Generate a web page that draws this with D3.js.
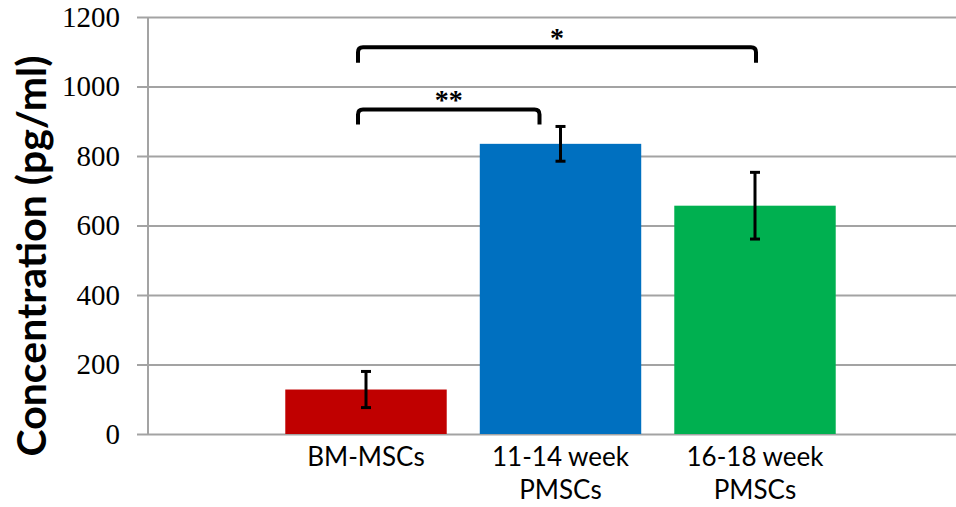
<!DOCTYPE html>
<html>
<head>
<meta charset="utf-8">
<script src="https://cdn.jsdelivr.net/npm/d3@7"></script>
<style>
  html, body { margin: 0; padding: 0; background: #fff; }
  svg { display: block; }
</style>
</head>
<body>
<svg id="chart" width="956" height="507"></svg>
<script>
// Cell groups, mean concentrations and error magnitudes (pg/ml)
const categories = ["BM-MSCs", "11-14 week PMSCs", "16-18 week PMSCs"];
const labelLines = [["BM-MSCs"], ["11-14 week", "PMSCs"], ["16-18 week", "PMSCs"]];
const values = [128, 835, 657];
const errors = [52, 50, 96];
const barColors = ["#C00000", "#0070C0", "#00B050"];
const yTicks = [0, 200, 400, 600, 800, 1000, 1200];

// Significance brackets: from/to group, bracket top and leg bottom (data units), label
const brackets = [
  { from: "BM-MSCs", to: "16-18 week PMSCs", top: 1113, bottom: 1068, label: "*", dxFrom: -8, dxTo: 1 },
  { from: "BM-MSCs", to: "11-14 week PMSCs", top: 934, bottom: 891, label: "**", dxFrom: -8, dxTo: -21 }
];

const svg = d3.select("#chart");
const plot = { left: 148, right: 956, top: 17, bottom: 434 };

const x = d3.scaleBand()
  .domain(categories)
  .range([268.75, 852.25])
  .paddingInner(0.17)
  .paddingOuter(0.085);

const y = d3.scaleLinear().domain([0, 1200]).range([plot.bottom, plot.top]);

// Horizontal gridlines with tick stubs
const yAxis = d3.axisLeft(y)
  .tickValues(yTicks)
  .tickSize(-(plot.right - plot.left))
  .tickPadding(28)
  .tickFormat(d3.format("d"));

const gy = svg.append("g")
  .attr("transform", `translate(${plot.left},0)`)
  .call(yAxis);
gy.select(".domain").remove();
gy.selectAll(".tick line")
  .attr("x1", -11)
  .attr("stroke", "#a3a3a3")
  .attr("stroke-width", 2);
gy.selectAll(".tick text")
  .attr("font-family", "'Liberation Serif', 'Times New Roman', serif")
  .attr("font-size", 29)
  .attr("fill", "#000");

// Vertical axis line
svg.append("line")
  .attr("x1", plot.left).attr("x2", plot.left)
  .attr("y1", y(1200)).attr("y2", y(0))
  .attr("stroke", "#a3a3a3").attr("stroke-width", 2);

// Bars
svg.append("g").selectAll("rect")
  .data(categories)
  .join("rect")
  .attr("x", d => x(d))
  .attr("width", x.bandwidth())
  .attr("y", (d, i) => y(values[i]))
  .attr("height", (d, i) => y(0) - y(values[i]))
  .attr("fill", (d, i) => barColors[i]);

// Error bars
const eb = svg.append("g").attr("stroke", "#000").attr("stroke-width", 3);
categories.forEach((c, i) => {
  const cx = x(c) + x.bandwidth() / 2;
  const hi = y(values[i] + errors[i]);
  const lo = y(values[i] - errors[i]);
  eb.append("line").attr("x1", cx).attr("x2", cx).attr("y1", hi).attr("y2", lo);
  eb.append("line").attr("x1", cx - 5).attr("x2", cx + 5).attr("y1", hi).attr("y2", hi);
  eb.append("line").attr("x1", cx - 5).attr("x2", cx + 5).attr("y1", lo).attr("y2", lo);
});

// Significance brackets
const r = 5;
brackets.forEach(b => {
  const x0 = x(b.from) + x.bandwidth() / 2 + b.dxFrom;
  const x1 = x(b.to) + x.bandwidth() / 2 + b.dxTo;
  const yt = y(b.top), yb = y(b.bottom);
  const p = d3.path();
  p.moveTo(x0, yb);
  p.lineTo(x0, yt + r);
  p.quadraticCurveTo(x0, yt, x0 + r, yt);
  p.lineTo(x1 - r, yt);
  p.quadraticCurveTo(x1, yt, x1, yt + r);
  p.lineTo(x1, yb);
  svg.append("path")
    .attr("d", p.toString())
    .attr("fill", "none")
    .attr("stroke", "#000")
    .attr("stroke-width", 4);
  svg.append("text")
    .attr("x", (x0 + x1) / 2)
    .attr("y", yt)
    .attr("text-anchor", "middle")
    .attr("font-family", "'Liberation Serif', 'Times New Roman', serif")
    .attr("font-weight", "bold")
    .attr("font-size", 28)
    .text(b.label);
});

// Category labels
const xl = svg.append("g")
  .attr("font-family", "Lato, 'Open Sans', sans-serif")
  .attr("font-size", 26)
  .attr("text-anchor", "middle")
  .attr("fill", "#000");
categories.forEach((c, i) => {
  const t = xl.append("text")
    .attr("x", x(c) + x.bandwidth() / 2)
    .attr("y", 466);
  labelLines[i].forEach((line, j) => {
    t.append("tspan")
      .attr("x", x(c) + x.bandwidth() / 2)
      .attr("dy", j === 0 ? 0 : 33)
      .text(line);
  });
});

// Y-axis title
svg.append("text")
  .attr("transform", "translate(46,256) rotate(-90)")
  .attr("text-anchor", "middle")
  .attr("font-family", "Lato, 'Open Sans', sans-serif")
  .attr("font-weight", "bold")
  .attr("font-size", 41)
  .attr("fill", "#000")
  .text("Concentration (pg/ml)");
</script>
</body>
</html>
